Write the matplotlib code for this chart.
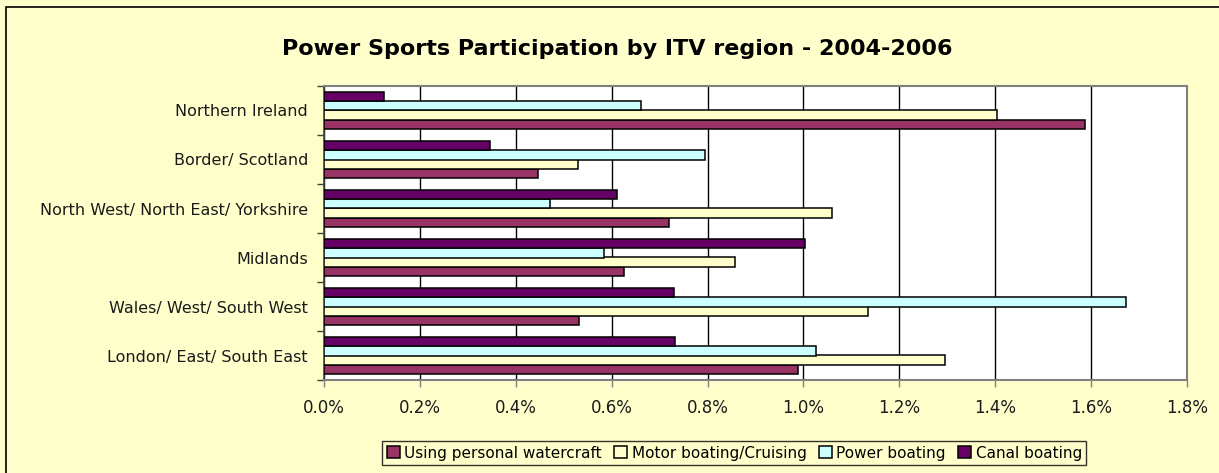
import matplotlib.pyplot as plt
import numpy as np
from matplotlib.patches import Rectangle
from matplotlib.ticker import FuncFormatter, FixedLocator

regions = [
    "London/ East/ South East",
    "Wales/ West/ South West",
    "Midlands",
    "North West/ North East/ Yorkshire",
    "Border/ Scotland",
    "Northern Ireland",
]

# participation, % of adults
watercraft = [0.989, 0.531, 0.625, 0.720, 0.447, 1.587]
motor = [1.295, 1.134, 0.858, 1.060, 0.529, 1.404]
power = [1.026, 1.672, 0.585, 0.472, 0.794, 0.661]
canal = [0.733, 0.729, 1.003, 0.612, 0.346, 0.126]

series = [
    ("Using personal watercraft", watercraft, "#993366"),
    ("Motor boating/Cruising", motor, "#FFFFCC"),
    ("Power boating", power, "#CCFFFF"),
    ("Canal boating", canal, "#660066"),
]

W, H = 1219, 473
fig = plt.figure(figsize=(W / 100, H / 100), dpi=100)
fig.patch.set_facecolor("#FFFFCC")

# outer chart border (only top/left fall inside the picture)
fig.add_artist(Rectangle((6 / W, -0.1), 1.2, 1 - 7 / H + 0.1,
                         transform=fig.transFigure, fill=False,
                         ec="black", lw=1.2))

ax = fig.add_axes([324 / W, 93 / H, 863 / W, 294 / H])
ax.set_facecolor("white")

y = np.arange(len(regions))
bh = 0.184
for i, (name, vals, col) in enumerate(series):
    ax.barh(y + (i - 1.5) * bh, vals, height=bh, color=col,
            edgecolor="black", linewidth=1.1, label=name, zorder=3)

ax.set_xlim(0, 1.8)
ax.set_ylim(-0.5, len(regions) - 0.5)
ax.set_xticks(np.arange(0, 1.81, 0.2))
ax.xaxis.set_major_formatter(FuncFormatter(lambda v, p: f"{v:.1f}%"))
ax.grid(axis="x", color="black", linewidth=1.0, zorder=1)

ax.yaxis.set_major_locator(FixedLocator(np.arange(-0.5, len(regions), 1)))
ax.yaxis.set_minor_locator(FixedLocator(y))
ax.set_yticklabels([], minor=False)
ax.set_yticklabels(regions, minor=True)
ax.tick_params(axis="y", which="major", length=5, width=1, color="#404040")
ax.tick_params(axis="y", which="minor", length=0, pad=11.5, labelsize=11.5,
               labelcolor="#1a1a1a")
ax.tick_params(axis="x", length=5, width=1, color="#808080", pad=9,
               labelsize=12, labelcolor="#1a1a1a")

for side in ["top", "right", "bottom"]:
    ax.spines[side].set_color("#808080")
    ax.spines[side].set_linewidth(1.5)
ax.spines["left"].set_color("#404040")
ax.spines["left"].set_linewidth(1.2)

fig.text(617 / W, 1 - 49 / H, "Power Sports Participation by ITV region - 2004-2006",
         ha="center", va="center", fontsize=16, fontweight="bold")

leg = fig.legend(loc="upper left", bbox_to_anchor=(382 / W, 1 - 441 / H),
                 ncol=4, fontsize=11, frameon=True, fancybox=False,
                 handlelength=0.85, handleheight=0.85, handletextpad=0.3,
                 columnspacing=0.8, borderpad=0.3, borderaxespad=0)
leg.get_frame().set_edgecolor("black")
leg.get_frame().set_facecolor("#FFFFCC")
leg.get_frame().set_linewidth(1.0)

fig.savefig("out.png", dpi=100, facecolor=fig.get_facecolor())
